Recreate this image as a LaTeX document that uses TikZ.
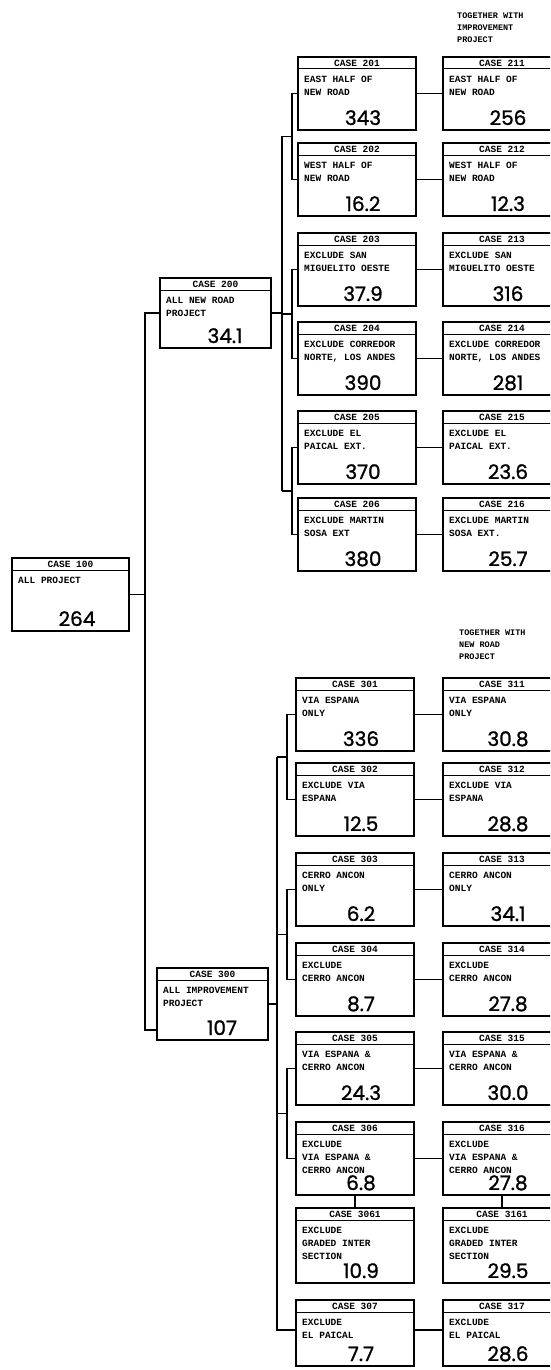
\documentclass[tikz,border=0pt]{standalone}
\usepackage{fontspec}
\setmonofont{Liberation Mono}
\newfontfamily\numfont{Poppins}[FakeBold=1.2]
\usetikzlibrary{positioning, calc}

\tikzset{
  cbox/.style={draw, line width=1.1pt, anchor=north west, minimum width=118pt,
    minimum height=73pt, inner sep=0pt, outer sep=0pt},
  chead/.style={anchor=base, inner sep=0pt, font=\ttfamily\bfseries\fontsize{9.5}{12}\selectfont},
  ctext/.style={anchor=north west, inner sep=0pt, align=left,
    font=\ttfamily\bfseries\fontsize{9.5}{13}\selectfont},
  cnum/.style={anchor=base, inner sep=0pt, font=\numfont\fontsize{20}{20}\selectfont},
  note/.style={inner sep=0pt, align=left, font=\ttfamily\bfseries\fontsize{8.5}{12}\selectfont},
  link/.style={line width=1.1pt}
}

% one case box: options, name, position, case no., text, value
\newcommand{\casebox}[6][]{%
  \node[cbox,#1] (#2) at #3 {};
  \draw[line width=1pt] ([yshift=-12pt]#2.north west) -- ([yshift=-12pt]#2.north east);
  \node[chead] (#2h) at ([yshift=-9.5pt]#2.north) {CASE #4};
  \node[ctext] (#2t) at ([shift={(6pt,-19pt)}]#2.north west) {#5};
  \node[cnum] (#2v) at ([shift={(65pt,5pt)}]#2.south west) {#6};
}

\begin{document}
\begin{tikzpicture}[x=1pt, y=-1pt]
  \useasboundingbox (0,0) rectangle (550,1370);
  \clip (0,0) rectangle (550,1370);

  % root and the two projects
  \casebox[minimum width=117pt]{c100}{(12,558)}{100}{ALL PROJECT}{264}
  \casebox[minimum width=111pt, minimum height=70pt]{c200}{(160,278)}{200}{ALL NEW ROAD\\PROJECT}{34.1}
  \casebox[minimum width=111pt, minimum height=72pt]{c300}{(157,968)}{300}{ALL IMPROVEMENT\\PROJECT}{107}

  % new road cases
  \casebox{c201}{(298,57)}{201}{EAST HALF OF\\NEW ROAD}{343}
  \casebox{c202}{(298,143)}{202}{WEST HALF OF\\NEW ROAD}{16.2}
  \casebox{c203}{(298,233)}{203}{EXCLUDE SAN\\MIGUELITO OESTE}{37.9}
  \casebox{c204}{(298,322)}{204}{EXCLUDE CORREDOR\\NORTE, LOS ANDES}{390}
  \casebox{c205}{(298,411)}{205}{EXCLUDE EL\\PAICAL EXT.}{370}
  \casebox{c206}{(298,498)}{206}{EXCLUDE MARTIN\\SOSA EXT}{380}

  \casebox{c211}{(443,57)}{211}{EAST HALF OF\\NEW ROAD}{256}
  \casebox{c212}{(443,143)}{212}{WEST HALF OF\\NEW ROAD}{12.3}
  \casebox{c213}{(443,233)}{213}{EXCLUDE SAN\\MIGUELITO OESTE}{316}
  \casebox{c214}{(443,322)}{214}{EXCLUDE CORREDOR\\NORTE, LOS ANDES}{281}
  \casebox{c215}{(443,411)}{215}{EXCLUDE EL\\PAICAL EXT.}{23.6}
  \casebox{c216}{(443,498)}{216}{EXCLUDE MARTIN\\SOSA EXT.}{25.7}

  % improvement cases
  \casebox{c301}{(296,678)}{301}{VIA ESPANA\\ONLY}{336}
  \casebox{c302}{(296,763)}{302}{EXCLUDE VIA\\ESPANA}{12.5}
  \casebox{c303}{(296,853)}{303}{CERRO ANCON\\ONLY}{6.2}
  \casebox{c304}{(296,943)}{304}{EXCLUDE\\CERRO ANCON}{8.7}
  \casebox{c305}{(296,1032)}{305}{VIA ESPANA \&\\CERRO ANCON}{24.3}
  \casebox{c306}{(296,1122)}{306}{EXCLUDE\\VIA ESPANA \&\\CERRO ANCON}{6.8}
  \casebox[minimum height=75pt]{c3061}{(296,1208)}{3061}{EXCLUDE\\GRADED INTER\\SECTION}{10.9}
  \casebox[minimum height=66pt]{c307}{(296,1300)}{307}{EXCLUDE\\EL PAICAL}{7.7}

  \casebox{c311}{(443,678)}{311}{VIA ESPANA\\ONLY}{30.8}
  \casebox{c312}{(443,763)}{312}{EXCLUDE VIA\\ESPANA}{28.8}
  \casebox{c313}{(443,853)}{313}{CERRO ANCON\\ONLY}{34.1}
  \casebox{c314}{(443,943)}{314}{EXCLUDE\\CERRO ANCON}{27.8}
  \casebox{c315}{(443,1032)}{315}{VIA ESPANA \&\\CERRO ANCON}{30.0}
  \casebox{c316}{(443,1122)}{316}{EXCLUDE\\VIA ESPANA \&\\CERRO ANCON}{27.8}
  \casebox[minimum height=75pt]{c3161}{(443,1208)}{3161}{EXCLUDE\\GRADED INTER\\SECTION}{29.5}
  \casebox[minimum height=66pt]{c317}{(443,1300)}{317}{EXCLUDE\\EL PAICAL}{28.6}

  \node[note, above right=14pt and 14pt of c211.north west] (note1) {TOGETHER WITH\\IMPROVEMENT\\PROJECT};
  \node[note, above right=18pt and 16pt of c311.north west] (note2) {TOGETHER WITH\\NEW ROAD\\PROJECT};

  % tree lines
  \coordinate (j1) at ([xshift=16pt]c100.east);
  \draw[link] (c100.east) -- (j1);
  \draw[link] (c200.west) -| (j1) |- ([yshift=-26pt]c300.west);

  \foreach \a/\b in {201/202,203/204,205/206}{
    \draw[link] (c\a.west) -- ++(-6,0) |- (c\b.west);
    \draw[link] ($(c\a.west)!.5!(c\b.west)+(-6,0)$) -- ++(-10,0);
  }
  \draw[link] ($(c201.west)!.5!(c202.west)+(-16,0)$) -- ($(c205.west)!.5!(c206.west)+(-16,0)$);
  \draw[link] (c200.east) -- ++(11,0);

  \foreach \a/\b in {301/302,303/304,305/306}{
    \draw[link] (c\a.west) -- ++(-9,0) |- (c\b.west);
    \draw[link] ($(c\a.west)!.5!(c\b.west)+(-9,0)$) -- ++(-10,0);
  }
  \draw[link] ($(c301.west)!.5!(c302.west)+(-19,0)$) |- ([yshift=3pt]c307.west);
  \draw[link] (c300.east) -- ++(9,0);

  \foreach \a/\b in {201/211,202/212,203/213,204/214,205/215,206/216,
                     301/311,302/312,303/313,304/314,305/315,306/316}
    \draw[link] (c\a.east) -- (c\b.west);
  \draw[link] ([yshift=3pt]c307.east) -- ([yshift=3pt]c317.west);
  \draw[link] (c306.south) -- (c3061.north);
  \draw[link] (c316.south) -- (c3161.north);
\end{tikzpicture}
\end{document}
